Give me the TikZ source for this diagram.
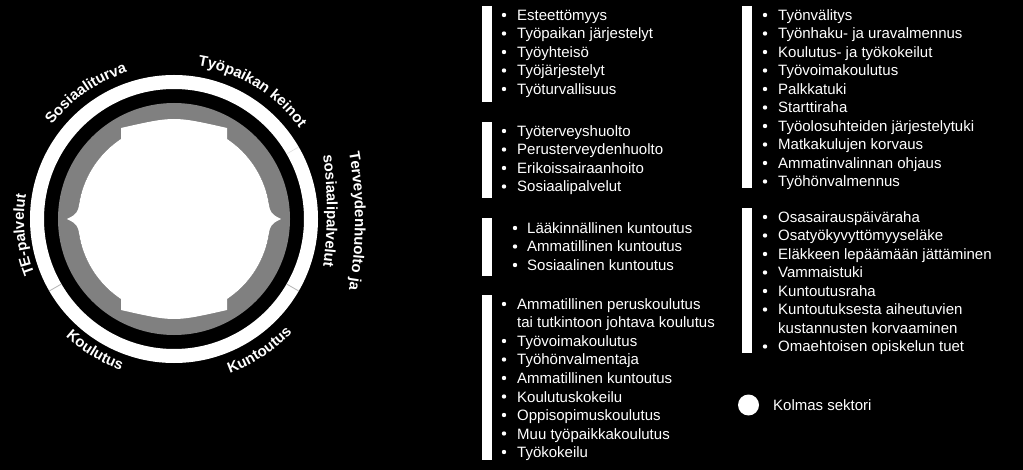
\documentclass[tikz,border=0pt]{standalone}
\usepackage{fontspec}
\setmainfont{Liberation Sans}
\usetikzlibrary{decorations.text}
\newcommand{\listfont}{\fontsize{15}{18}\selectfont}
\newcommand{\ringfont}{\fontsize{15}{18}\selectfont\bfseries}
\tikzset{
  item/.style={anchor=base west, inner sep=0pt, text=white, font=\listfont},
  bar/.style={fill=white},
  ringtext/.style={decorate, decoration={text along path, text align=center, text color=white}},
}
\begin{document}
\begin{tikzpicture}[x=1pt, y=1pt]

        \useasboundingbox (0,0) rectangle (1023,-470);
        \fill[black] (0,0) rectangle (1023,-470);

        % Ympyra
        \coordinate (c) at (174,-219);
        \begin{scope}[shift={(c)}]
          \draw[white, line width=14pt] (0,0) circle[radius=137pt];
          \foreach \a in {210,330} \draw[gray!60, line width=0.8pt] (\a:130pt) -- (\a:144pt);
          \draw[gray!25, line width=0.6pt] (30:130pt) -- (30:144pt);
          \draw[gray, line width=20pt] (0,0) circle[radius=106pt];
          \fill[white] (0,0) circle[radius=96pt];
          % sivukarjet
          \foreach \a in {0,180}
            \fill[white] ({\a-13}:95pt) .. controls ({\a-3}:97pt) .. (\a:107pt) .. controls ({\a+3}:97pt) .. ({\a+13}:95pt) -- cycle;
          % ylä- ja alareuna
          \foreach \s in {1,-1}
            \fill[white] (-53,{\s*78}) -- (-53,{\s*91}) .. controls (0,{\s*103}) .. (53,{\s*91}) -- (53,{\s*78}) -- cycle;

          % Tekstit renkaan ympari
          \path[ringtext, decoration={text={|\ringfont|Työpaikan keinot}}] (98.5:155pt) arc[start angle=98.5, end angle=18.5, radius=155pt];
          \path[ringtext, decoration={text={|\ringfont|Sosiaaliturva}}] (165:154pt) arc[start angle=165, end angle=85, radius=154pt];
          \path[ringtext, decoration={text={|\ringfont|TE-palvelut}}] (226:150pt) arc[start angle=226, end angle=146, radius=150pt];
          \path[ringtext, decoration={text={|\ringfont|Koulutus}}] (199:160pt) arc[start angle=199, end angle=279, radius=160pt];
          \path[ringtext, decoration={text={|\ringfont|Kuntoutus}}] (263:164pt) arc[start angle=263, end angle=343, radius=164pt];
        \end{scope}
        \path[ringtext, decoration={text={|\ringfont|Terveydenhuolto ja}}] (-45,-221) ++(14:400pt) arc[start angle=14, end angle=-14, radius=400pt];
        \path[ringtext, decoration={text={|\ringfont|sosiaalipalvelut}}] (-73,-211) ++(14:400pt) arc[start angle=14, end angle=-14, radius=400pt];

        % Palkit
        \fill[bar] (482,-6) rectangle (492,-102);
        \fill[bar] (482,-122) rectangle (492,-198);
        \fill[bar] (482,-218) rectangle (492,-276);
        \fill[bar] (482,-295) rectangle (492,-460);
        \fill[bar] (742,-6) rectangle (752,-188);
        \fill[bar] (742,-208) rectangle (752,-353);

        % Lista 1
        \foreach \t [count=\i from 0] in {Esteettömyys, Työpaikan järjestelyt, Työyhteisö, Työjärjestelyt, Työturvallisuus} {
          \fill[white] (504,{-15-18.5*\i}) circle[radius=2.2pt];
          \node[item] (a\i) at (517,{-20.5-18.5*\i}) {\t};
        }

        % Lista 2
        \foreach \t [count=\i from 0] in {Työterveyshuolto, Perusterveydenhuolto, Erikoissairaanhoito, Sosiaalipalvelut} {
          \fill[white] (504,{-131-18.5*\i}) circle[radius=2.2pt];
          \node[item] (b\i) at (517,{-136.5-18.5*\i}) {\t};
        }

        % Lista 3
        \foreach \t [count=\i from 0] in {Lääkinnällinen kuntoutus, Ammatillinen kuntoutus, Sosiaalinen kuntoutus} {
          \fill[white] (515,{-228-18.5*\i}) circle[radius=2.2pt];
          \node[item] (d\i) at (527,{-233.5-18.5*\i}) {\t};
        }

        % Lista 4
        \fill[white] (504,-304) circle[radius=2.2pt];
        \node[item] (e0) at (517,-309.5) {Ammatillinen peruskoulutus};
        \node[item] (e0b) at (517,-328) {tai tutkintoon johtava koulutus};
        \foreach \t [count=\i from 0] in {Työvoimakoulutus, Työhönvalmentaja, Ammatillinen kuntoutus, Koulutuskokeilu, Oppisopimuskoulutus, Muu työpaikkakoulutus, Työkokeilu} {
          \fill[white] (504,{-341-18.5*\i}) circle[radius=2.2pt];
          \node[item] (f\i) at (517,{-346.5-18.5*\i}) {\t};
        }

        % Lista 5
        \foreach \t [count=\i from 0] in {Työnvälitys, Työnhaku- ja uravalmennus, Koulutus- ja työkokeilut, Työvoimakoulutus, Palkkatuki, Starttiraha, Työolosuhteiden järjestelytuki, Matkakulujen korvaus, Ammatinvalinnan ohjaus, Työhönvalmennus} {
          \fill[white] (765,{-15-18.5*\i}) circle[radius=2.2pt];
          \node[item] (g\i) at (778,{-20.5-18.5*\i}) {\t};
        }

        % Lista 6
        \foreach \t [count=\i from 0] in {Osasairauspäiväraha, Osatyökyvyttömyyseläke, Eläkkeen lepäämään jättäminen, Vammaistuki, Kuntoutusraha, Kuntoutuksesta aiheutuvien} {
          \fill[white] (765,{-217-18.5*\i}) circle[radius=2.2pt];
          \node[item] (h\i) at (778,{-222.5-18.5*\i}) {\t};
        }
        \node[item] (h5b) at (778,-333.5) {kustannusten korvaaminen};
        \fill[white] (765,-346.5) circle[radius=2.2pt];
        \node[item] (h6) at (778,-352) {Omaehtoisen opiskelun tuet};

        % Selite
        \fill[white] (748.5,-405) circle[radius=10.5pt];
        \node[item] (kolmas) at (773,-410.5) {Kolmas sektori};

\end{tikzpicture}
\end{document}
